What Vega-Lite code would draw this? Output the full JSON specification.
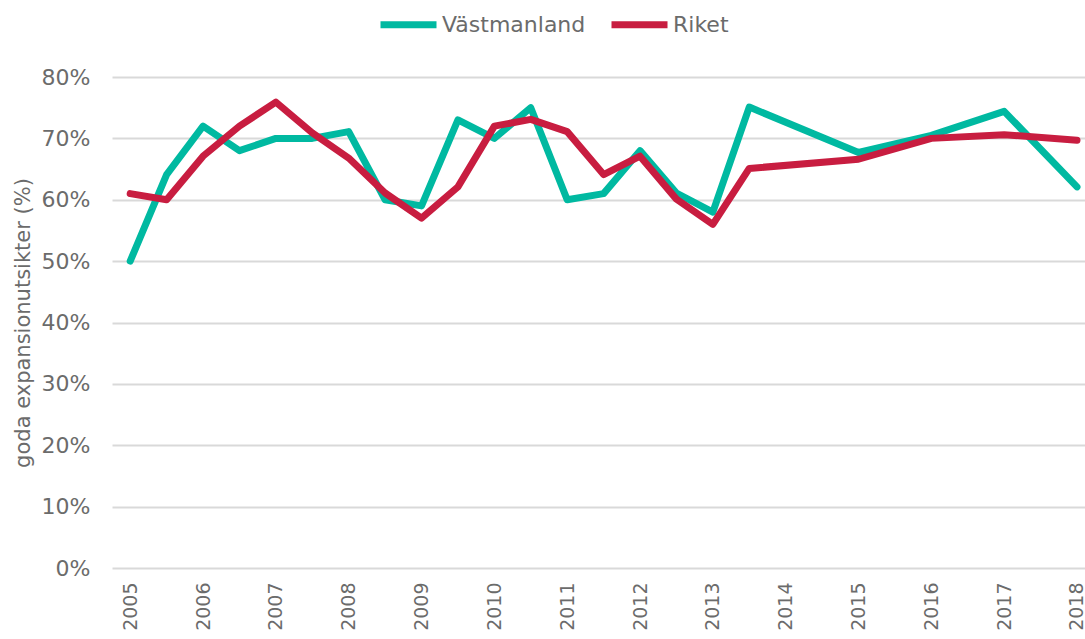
{
  "$schema": "https://vega.github.io/schema/vega-lite/v6.json",
  "autosize": "none",
  "width": 973,
  "height": 491,
  "padding": {"left": 112, "top": 77, "right": 0, "bottom": 71},
  "background": "white",
  "config": {
    "view": {"stroke": null},
    "font": "DejaVu Sans"
  },
  "data": {
    "values": [
      {"year": 2005, "serie": "Västmanland", "value": 0.50},
      {"year": 2005.5, "serie": "Västmanland", "value": 0.641},
      {"year": 2006, "serie": "Västmanland", "value": 0.72},
      {"year": 2006.5, "serie": "Västmanland", "value": 0.68},
      {"year": 2007, "serie": "Västmanland", "value": 0.70},
      {"year": 2007.5, "serie": "Västmanland", "value": 0.70},
      {"year": 2008, "serie": "Västmanland", "value": 0.711},
      {"year": 2008.5, "serie": "Västmanland", "value": 0.60},
      {"year": 2009, "serie": "Västmanland", "value": 0.59},
      {"year": 2009.5, "serie": "Västmanland", "value": 0.73},
      {"year": 2010, "serie": "Västmanland", "value": 0.70},
      {"year": 2010.5, "serie": "Västmanland", "value": 0.75},
      {"year": 2011, "serie": "Västmanland", "value": 0.60},
      {"year": 2011.5, "serie": "Västmanland", "value": 0.61},
      {"year": 2012, "serie": "Västmanland", "value": 0.68},
      {"year": 2012.5, "serie": "Västmanland", "value": 0.611},
      {"year": 2013, "serie": "Västmanland", "value": 0.58},
      {"year": 2013.5, "serie": "Västmanland", "value": 0.751},
      {"year": 2015, "serie": "Västmanland", "value": 0.677},
      {"year": 2016, "serie": "Västmanland", "value": 0.705},
      {"year": 2017, "serie": "Västmanland", "value": 0.744},
      {"year": 2018, "serie": "Västmanland", "value": 0.621},
      {"year": 2005, "serie": "Riket", "value": 0.61},
      {"year": 2005.5, "serie": "Riket", "value": 0.60},
      {"year": 2006, "serie": "Riket", "value": 0.671},
      {"year": 2006.5, "serie": "Riket", "value": 0.72},
      {"year": 2007, "serie": "Riket", "value": 0.759},
      {"year": 2007.5, "serie": "Riket", "value": 0.709},
      {"year": 2008, "serie": "Riket", "value": 0.668},
      {"year": 2008.5, "serie": "Riket", "value": 0.611},
      {"year": 2009, "serie": "Riket", "value": 0.57},
      {"year": 2009.5, "serie": "Riket", "value": 0.621},
      {"year": 2010, "serie": "Riket", "value": 0.72},
      {"year": 2010.5, "serie": "Riket", "value": 0.731},
      {"year": 2011, "serie": "Riket", "value": 0.711},
      {"year": 2011.5, "serie": "Riket", "value": 0.641},
      {"year": 2012, "serie": "Riket", "value": 0.671},
      {"year": 2012.5, "serie": "Riket", "value": 0.601},
      {"year": 2013, "serie": "Riket", "value": 0.56},
      {"year": 2013.5, "serie": "Riket", "value": 0.651},
      {"year": 2015, "serie": "Riket", "value": 0.666},
      {"year": 2016, "serie": "Riket", "value": 0.70},
      {"year": 2017, "serie": "Riket", "value": 0.706},
      {"year": 2018, "serie": "Riket", "value": 0.697}
    ]
  },
  "mark": {"type": "line", "strokeWidth": 7, "strokeCap": "round", "strokeJoin": "round", "clip": false},
  "encoding": {
    "x": {
      "field": "year", "type": "quantitative",
      "scale": {"domain": [2004.75, 2018.11], "nice": false, "zero": false},
      "axis": {
        "values": [2005, 2006, 2007, 2008, 2009, 2010, 2011, 2012, 2013, 2014, 2015, 2016, 2017, 2018],
        "format": "d", "labelAngle": -90, "labelFontSize": 19, "labelColor": "#6b6b6b",
        "labelPadding": 14, "ticks": false, "domain": false, "grid": false, "title": null,
        "labelOverlap": false, "labelFlush": false
      }
    },
    "y": {
      "field": "value", "type": "quantitative",
      "scale": {"domain": [0, 0.8], "nice": false},
      "axis": {
        "values": [0, 0.1, 0.2, 0.3, 0.4, 0.5, 0.6, 0.7, 0.8],
        "format": ".0%", "labelFontSize": 22, "labelColor": "#6b6b6b", "labelPadding": 22,
        "ticks": false, "domain": false, "grid": true, "gridColor": "#d9d9d9", "gridWidth": 2,
        "title": "goda expansionutsikter (%)", "titleFontSize": 21, "titleFontWeight": "normal",
        "titleColor": "#6b6b6b", "titlePadding": 8
      }
    },
    "color": {
      "field": "serie", "type": "nominal",
      "scale": {"domain": ["Västmanland", "Riket"], "range": ["#00b9a1", "#c81d40"]},
      "legend": {
        "title": null, "orient": "none", "direction": "horizontal",
        "legendX": 265, "legendY": -84,
        "symbolType": "stroke", "symbolSize": 3136, "symbolStrokeWidth": 7,
        "labelFontSize": 22, "labelColor": "#6b6b6b", "labelOffset": 2,
        "columnPadding": 11
      }
    }
  }
}
